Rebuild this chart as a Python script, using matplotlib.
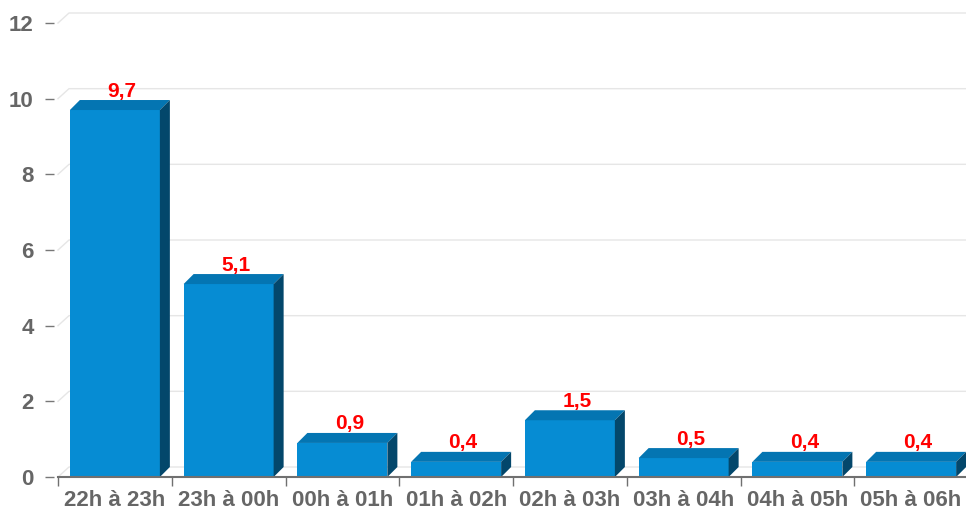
"""Bar chart with 3D-looking columns: values per night hour slot"""

import matplotlib
matplotlib.use('Agg')
import matplotlib.pyplot as plt
from matplotlib.patches import Polygon

categories = ['22h à 23h', '23h à 00h', '00h à 01h', '01h à 02h',
              '02h à 03h', '03h à 04h', '04h à 05h', '05h à 06h']
values = [9.7, 5.1, 0.9, 0.4, 1.5, 0.5, 0.4, 0.4]
labels = ['9,7', '5,1', '0,9', '0,4', '1,5', '0,5', '0,4', '0,4']
yticks = [0, 2, 4, 6, 8, 10, 12]

W, H = 966, 513
front = '#068cd3'
top_c = '#0475b2'
side_c = '#03476b'
grid_c = '#e6e6e6'
text_c = '#666666'

plt.rcParams['font.family'] = ['Liberation Sans', 'DejaVu Sans']

fig = plt.figure(figsize=(W / 100, H / 100), dpi=100)
ax = fig.add_axes([58 / W, 36 / H, 910 / W, 454 / H])
ax.set_xlim(-0.5, len(categories) - 0.5)
ax.set_ylim(0, 12)

# pixel -> data scale, used for the fake depth
px_x = len(categories) / 910.0
px_y = 12 / 454.0
bar_dx, bar_dy = 10 * px_x, 10 * px_y
grid_dx, grid_dy = 11 * px_x, 10 * px_y
bar_w = 90 * px_x

# back-plane grid lines with the little diagonal on the left
for t in yticks:
    x0 = -0.5
    ax.plot([x0, x0 + grid_dx, len(categories) - 0.5 + 0.1],
            [t, t + grid_dy, t + grid_dy],
            color=grid_c, lw=1, clip_on=False, zorder=1)

for i, v in enumerate(values):
    x0 = i - bar_w / 2
    x1 = i + bar_w / 2
    ax.add_patch(Polygon([(x0, 0), (x1, 0), (x1, v), (x0, v)],
                         closed=True, fc=front, ec='none', zorder=3, clip_on=False))
    ax.add_patch(Polygon([(x0, v), (x1, v), (x1 + bar_dx, v + bar_dy), (x0 + bar_dx, v + bar_dy)],
                         closed=True, fc=top_c, ec='none', zorder=3, clip_on=False))
    ax.add_patch(Polygon([(x1, 0), (x1 + bar_dx, bar_dy), (x1 + bar_dx, v + bar_dy), (x1, v)],
                         closed=True, fc=side_c, ec='none', zorder=3, clip_on=False))
    ax.annotate(labels[i], (i + bar_dx * 0.7, v + bar_dy), xytext=(0, 2.5),
                textcoords='offset points', ha='center', va='baseline',
                color='red', fontsize=15, fontweight='bold', zorder=5,
                annotation_clip=False)

for s in ['top', 'right', 'left']:
    ax.spines[s].set_visible(False)
ax.spines['bottom'].set_color('#707070')
ax.spines['bottom'].set_linewidth(1.5)
ax.spines['bottom'].set_zorder(4)
ax.spines['left'].set_position(('outward', 3))

ax.set_yticks(yticks)
ax.set_yticklabels([str(t) for t in yticks])
ax.tick_params(axis='y', length=6.5, width=1, color='#777777', pad=8,
               labelsize=16, labelcolor=text_c)

ax.set_xticks(range(len(categories)))
ax.set_xticklabels(categories)
ax.set_xticks([i - 0.5 for i in range(len(categories) + 1)], minor=True)
ax.tick_params(axis='x', which='major', length=0, pad=9, labelsize=16, labelcolor=text_c)
ax.tick_params(axis='x', which='minor', length=6.5, width=1, color='#707070')
for lab in ax.get_xticklabels() + ax.get_yticklabels():
    lab.set_fontweight('bold')

fig.savefig('out.png', dpi=100)
